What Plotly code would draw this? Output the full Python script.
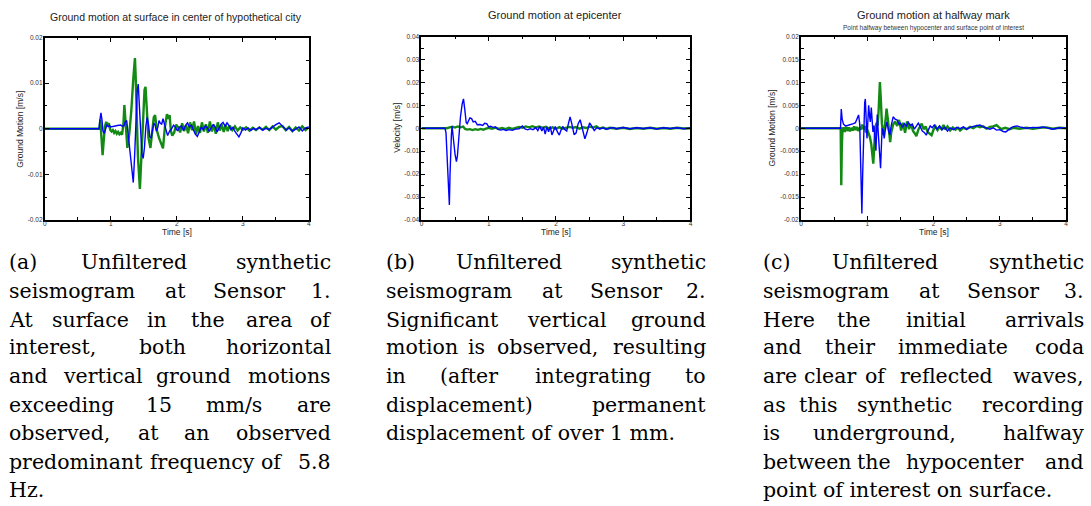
import plotly.graph_objects as go

W, H = 1091, 506

# ---------------- DATA ----------------
# Panel (a) Sensor 1
s1_green_t = [0, 0.83, 0.84, 0.86, 0.875, 0.89, 0.91, 0.93, 0.95, 0.97, 0.99, 1.01, 1.03, 1.05, 1.07, 1.09, 1.11, 1.13, 1.15, 1.17, 1.19, 1.205, 1.22, 1.25, 1.28, 1.31, 1.34, 1.365, 1.375, 1.39, 1.41, 1.44, 1.46, 1.48, 1.51, 1.525, 1.54, 1.57, 1.60, 1.62, 1.65, 1.67, 1.70, 1.73, 1.76, 1.79, 1.82, 1.85, 1.87, 1.89, 1.91, 1.93, 1.96, 1.99, 2.02, 2.05, 2.08, 2.11, 2.14, 2.17, 2.20, 2.23, 2.26, 2.29, 2.32, 2.35, 2.38, 2.41, 2.44, 2.47, 2.50, 2.53, 2.56, 2.59, 2.62, 2.65, 2.68, 2.71, 2.74, 2.77, 2.80, 2.84, 2.88, 2.92, 2.96, 3.0, 3.05, 3.1, 3.15, 3.2, 3.25, 3.3, 3.35, 3.4, 3.45, 3.5, 3.55, 3.6, 3.65, 3.7, 3.75, 3.8, 3.85, 3.9, 3.95, 4.0]
s1_green = [0, 0, 0.002, -0.002, -0.0058, -0.003, 0.0005, 0.0015, 0.0008, 0.0012, -0.0002, -0.0006, -0.0003, -0.0009, -0.0005, -0.0011, -0.0007, -0.0012, -0.0009, -0.0013, 0.001, 0.0052, 0.002, -0.0042, -0.001, 0.004, 0.011, 0.0155, 0.012, 0.004, -0.006, -0.0132, -0.007, 0.002, 0.0085, 0.0092, 0.005, -0.002, -0.0042, -0.001, 0.0025, 0.003, -0.0005, -0.002, -0.003, -0.0043, 0.0005, 0.0032, 0.0022, 0.003, -0.0005, -0.0015, -0.0008, 0.0009, 0.0003, -0.0008, 0.0012, -0.0005, 0.0008, -0.0010, 0.0014, -0.0003, 0.0016, -0.0012, 0.0006, -0.0009, 0.0014, -0.0006, 0.001, -0.0009, 0.0016, -0.0006, 0.0009, -0.0011, 0.0014, -0.0004, 0.0009, -0.0007, 0.0008, -0.0005, 0.0007, -0.0003, 0.0005, -0.0004, 0.0003, -0.0002, 0.0003, -0.0004, 0.0002, -0.0003, 0.0003, -0.0002, 0.0004, -0.0003, 0.0005, -0.0002, 0.0004, 0.0006, -0.0003, 0.0004, -0.0005, 0.0003, -0.0004, 0.0005, -0.0003, 0.0003]
s1_blue_t = [0, 0.82, 0.835, 0.85, 0.865, 0.88, 0.90, 0.92, 0.94, 0.96, 0.98, 1.0, 1.05, 1.1, 1.15, 1.18, 1.2, 1.22, 1.24, 1.26, 1.29, 1.32, 1.34, 1.36, 1.38, 1.40, 1.415, 1.43, 1.45, 1.47, 1.49, 1.51, 1.53, 1.55, 1.57, 1.59, 1.61, 1.63, 1.65, 1.67, 1.69, 1.71, 1.73, 1.75, 1.77, 1.79, 1.81, 1.83, 1.86, 1.89, 1.92, 1.95, 1.98, 2.01, 2.04, 2.07, 2.10, 2.13, 2.16, 2.19, 2.22, 2.25, 2.28, 2.31, 2.34, 2.37, 2.40, 2.43, 2.46, 2.49, 2.52, 2.55, 2.58, 2.61, 2.64, 2.67, 2.70, 2.73, 2.76, 2.79, 2.82, 2.85, 2.88, 2.91, 2.94, 2.97, 3.0, 3.04, 3.08, 3.12, 3.16, 3.2, 3.25, 3.3, 3.35, 3.4, 3.45, 3.5, 3.55, 3.58, 3.62, 3.66, 3.7, 3.75, 3.8, 3.85, 3.9, 3.95, 4.0]
s1_blue = [0, 0, 0.002, 0.0035, 0.002, -0.0005, -0.001, -0.0003, 0.0008, 0.0005, 0.0007, 0.0004, 0.0006, 0.0007, 0.0008, 0.0005, 0.0007, 0.0015, 0.0018, -0.001, -0.006, -0.0105, -0.0118, -0.006, 0.002, 0.0085, 0.0098, 0.006, -0.001, -0.0055, -0.0065, -0.004, 0.0005, 0.0025, 0.001, -0.0018, -0.002, 0.0, 0.0012, 0.0008, -0.0005, 0.0002, 0.0018, 0.0012, 0.001, 0.0022, 0.0012, 0.0005, -0.0015, -0.0005, 0.0, 0.0008, 0.0003, -0.0005, 0.0004, 0.0006, -0.0004, 0.0007, 0.0013, 0.0004, 0.0008, -0.0002, -0.0012, -0.0017, -0.0005, 0.0004, -0.0002, 0.0006, 0.0003, -0.0006, 0.0002, 0.0009, 0.0004, -0.0007, 0.0002, 0.001, 0.0014, 0.0006, 0.0013, 0.0007, -0.0002, 0.0003, -0.0006, -0.0012, -0.0018, -0.0009, 0.0002, -0.0003, 0.0002, -0.0004, 0.0001, -0.0002, 0.0003, -0.0003, 0.0001, -0.0002, 0.0004, 0.0009, 0.0013, 0.0009, 0.0003, -0.0003, 0.0002, -0.0005, -0.0001, 0.0004, -0.0005, 0.0002, 0.0004]

# Panel (b) Sensor 2
s2_green_t = [0, 0.38, 0.42, 0.46, 0.5, 0.54, 0.58, 0.62, 0.65, 0.68, 0.72, 0.76, 0.8, 0.84, 0.88, 0.92, 0.96, 1.0, 1.05, 1.1, 1.15, 1.2, 1.25, 1.3, 1.35, 1.4, 1.45, 1.5, 1.55, 1.6, 1.65, 1.7, 1.75, 1.8, 1.85, 1.9, 1.95, 2.0, 2.05, 2.1, 2.15, 2.2, 2.25, 2.3, 2.35, 2.4, 2.45, 2.5, 2.55, 2.6, 2.65, 2.7, 2.75, 2.8, 2.9, 3.0, 3.1, 3.2, 3.3, 3.4, 3.5, 3.6, 3.7, 3.8, 3.9, 4.0]
s2_green = [0, 0, 0.0004, 0.0007, 0.0003, 0.0008, 0.0004, 0.0007, -0.0003, -0.0006, -0.0004, -0.0008, -0.0004, -0.0007, -0.0003, -0.0006, -0.0002, 0.0002, -0.0002, 0.0003, -0.0003, 0.0001, -0.0004, 0.0002, -0.0003, 0.0003, 0.0006, 0.0002, 0.0008, 0.0004, 0.0009, 0.0003, 0.0008, 0.0002, 0.0006, -0.0002, 0.0004, -0.0003, 0.0005, -0.0002, 0.0003, 0.0006, 0.0002, 0.0005, -0.0002, 0.0004, 0.0001, 0.0007, 0.0003, 0.0008, -0.0001, 0.0003, -0.0003, 0.0002, -0.0002, 0.0002, -0.0003, 0.0001, -0.0002, 0.0002, -0.0002, 0.0001, -0.0002, 0.0002, -0.0001, 0.0]
s2_blue_t = [0, 0.35, 0.365, 0.38, 0.395, 0.40, 0.405, 0.415, 0.425, 0.435, 0.445, 0.455, 0.465, 0.48, 0.50, 0.52, 0.535, 0.555, 0.58, 0.605, 0.625, 0.645, 0.665, 0.68, 0.70, 0.72, 0.745, 0.77, 0.80, 0.83, 0.87, 0.91, 0.94, 0.97, 1.00, 1.03, 1.06, 1.10, 1.14, 1.18, 1.22, 1.26, 1.30, 1.35, 1.40, 1.45, 1.50, 1.54, 1.58, 1.62, 1.66, 1.70, 1.73, 1.76, 1.79, 1.815, 1.84, 1.865, 1.89, 1.915, 1.94, 1.965, 1.99, 2.02, 2.05, 2.075, 2.10, 2.13, 2.16, 2.185, 2.21, 2.235, 2.27, 2.30, 2.33, 2.36, 2.39, 2.43, 2.46, 2.50, 2.53, 2.57, 2.61, 2.65, 2.70, 2.75, 2.8, 2.85, 2.9, 3.0, 3.1, 3.2, 3.3, 3.4, 3.5, 3.6, 3.7, 3.8, 3.9, 4.0]
s2_blue = [0, 0, -0.002, -0.012, -0.0215, -0.019, -0.025, -0.0335, -0.02, -0.008, -0.003, 0.001, -0.001, -0.006, -0.0115, -0.0145, -0.012, -0.003, 0.005, 0.0105, 0.0128, 0.008, 0.0025, 0.002, 0.0035, 0.0045, 0.0042, 0.0028, 0.003, 0.0015, 0.0016, 0.0012, 0.0022, 0.002, 0.0006, 0.0009, 0.0004, 0.0006, -0.0005, -0.0008, -0.0005, -0.001, -0.0006, -0.0009, -0.0004, -0.0002, 0.001, -0.0003, -0.0007, -0.0002, -0.0006, 0.0003, -0.001, 0.0008, -0.0012, 0.0005, -0.0025, 0.0006, -0.0015, 0.0008, -0.0029, -0.0005, 0.0008, -0.0015, -0.003, -0.0008, 0.0008, -0.0005, -0.0012, 0.002, 0.005, 0.002, -0.0028, -0.002, 0.002, 0.0037, 0.0005, -0.0046, -0.002, 0.0023, 0.001, -0.001, 0.0003, -0.0003, 0.0002, -0.0004, 0.0, 0.0003, -0.0002, 0.0003, -0.0002, 0.0002, -0.0001, 0.0002, -0.0003, 0.0002, -0.0001, 0.0002, -0.0002, 0.0001]

# Panel (c) Sensor 3
s3_green_t = [0, 0.598, 0.602, 0.607, 0.615, 0.625, 0.64, 0.66, 0.68, 0.70, 0.72, 0.74, 0.76, 0.78, 0.80, 0.82, 0.84, 0.86, 0.88, 0.90, 0.92, 0.94, 0.96, 0.98, 1.00, 1.02, 1.04, 1.06, 1.075, 1.09, 1.105, 1.12, 1.14, 1.155, 1.17, 1.19, 1.205, 1.22, 1.24, 1.26, 1.28, 1.29, 1.31, 1.33, 1.345, 1.36, 1.39, 1.42, 1.45, 1.48, 1.51, 1.54, 1.57, 1.60, 1.63, 1.66, 1.69, 1.72, 1.74, 1.77, 1.80, 1.82, 1.85, 1.88, 1.91, 1.94, 1.97, 2.0, 2.03, 2.06, 2.09, 2.12, 2.15, 2.18, 2.21, 2.25, 2.29, 2.33, 2.37, 2.4, 2.45, 2.5, 2.55, 2.6, 2.65, 2.7, 2.75, 2.8, 2.85, 2.9, 2.95, 2.98, 3.02, 3.08, 3.15, 3.2, 3.3, 3.4, 3.5, 3.6, 3.7, 3.8, 3.9, 4.0]
s3_green = [0, 0, -0.006, -0.0124, -0.004, -0.0005, 0.0002, -0.0008, 0.0003, -0.0006, 0.0002, -0.0007, 0.0001, -0.0005, 0.0004, -0.0004, 0.0003, -0.0006, 0.0001, -0.0003, 0.0008, -0.0002, 0.0005, -0.0009, -0.0003, -0.0012, -0.002, -0.0035, -0.0065, -0.0077, -0.004, 0.0, 0.0012, 0.0005, 0.0037, 0.0101, 0.006, 0.001, -0.0015, 0.0, 0.0025, 0.0043, 0.002, -0.0012, -0.003, -0.001, 0.0008, 0.0015, 0.0005, 0.0018, -0.0005, 0.0012, -0.001, 0.0015, -0.0002, 0.0009, -0.0006, -0.0012, -0.0017, -0.0003, 0.0006, 0.001, -0.0002, 0.0004, -0.0008, -0.0012, -0.0015, -0.0003, 0.0004, -0.0004, 0.0003, -0.0002, 0.0007, -0.0003, 0.0004, -0.0005, 0.0002, -0.0003, 0.0001, -0.0005, 0.0001, -0.0002, 0.0003, 0.0, 0.0005, 0.0002, 0.0004, -0.0001, 0.0003, 0.0004, 0.0007, 0.0003, -0.0002, 0.0001, -0.0002, 0.0001, -0.0001, 0.0001, -0.0001, 0.0001, 0.0002, -0.0001, 0.0001, 0.0]
s3_blue_t = [0, 0.595, 0.607, 0.62, 0.64, 0.67, 0.70, 0.73, 0.76, 0.79, 0.82, 0.85, 0.868, 0.885, 0.90, 0.918, 0.93, 0.945, 0.96, 0.97, 0.985, 0.995, 1.01, 1.02, 1.035, 1.045, 1.06, 1.075, 1.085, 1.10, 1.115, 1.13, 1.14, 1.15, 1.165, 1.18, 1.20, 1.215, 1.225, 1.24, 1.255, 1.27, 1.295, 1.32, 1.34, 1.36, 1.39, 1.42, 1.45, 1.48, 1.50, 1.53, 1.56, 1.59, 1.62, 1.65, 1.68, 1.71, 1.74, 1.77, 1.80, 1.83, 1.86, 1.89, 1.92, 1.95, 1.98, 2.01, 2.05, 2.09, 2.13, 2.17, 2.21, 2.25, 2.3, 2.35, 2.4, 2.45, 2.5, 2.55, 2.6, 2.65, 2.7, 2.75, 2.8, 2.85, 2.9, 2.95, 3.0, 3.05, 3.09, 3.13, 3.18, 3.22, 3.26, 3.3, 3.35, 3.4, 3.5, 3.6, 3.65, 3.7, 3.8, 3.9, 4.0]
s3_blue = [0, 0, 0.0042, 0.002, 0.0009, 0.0005, 0.0006, 0.0007, 0.0008, 0.001, 0.0012, 0.0022, 0.0029, 0.001, -0.008, -0.0186, -0.01, 0.0, 0.0055, 0.0064, 0.001, -0.0022, 0.002, 0.005, 0.0025, 0.0014, 0.0045, 0.001, -0.0008, 0.0006, -0.002, -0.0049, -0.001, 0.003, -0.001, -0.005, -0.0087, -0.003, 0.0, -0.0005, -0.0022, -0.0005, 0.0014, -0.0005, -0.0015, 0.0005, 0.0025, 0.002, 0.0018, 0.0008, 0.0012, 0.0002, 0.001, 0.0005, 0.0013, 0.0006, 0.0009, -0.0002, 0.0004, 0.0011, 0.0003, -0.0006, -0.0009, -0.0015, -0.0004, 0.0005, 0.0001, 0.0007, -0.0002, 0.0005, -0.0003, 0.0002, -0.0006, 0.0001, -0.0003, 0.0002, -0.0001, 0.0003, -0.0002, 0.0002, 0.0004, 0.0006, 0.0007, 0.0003, 0.0001, -0.0002, 0.0001, -0.0004, -0.0003, -0.0007, -0.0008, -0.0003, 0.0002, 0.0004, 0.0005, 0.0003, 0.0002, 0.0, 0.0002, 0.0001, 0.0003, 0.0001, -0.0002, 0.0001, 0.0]

# Tick labels
x_tickvals = [0, 1, 2, 3, 4]
x_ticktext = ["0", "1", "2", "3", "4"]
y1_tickvals = [-0.02, -0.01, 0, 0.01, 0.02]
y1_ticktext = ["-0.02", "-0.01", "0", "0.01", "0.02"]
y2_tickvals = [-0.04, -0.03, -0.02, -0.01, 0, 0.01, 0.02, 0.03, 0.04]
y2_ticktext = ["-0.04", "-0.03", "-0.02", "-0.01", "0", "0.01", "0.02", "0.03", "0.04"]
y3_tickvals = [-0.02, -0.015, -0.01, -0.005, 0, 0.005, 0.01, 0.015, 0.02]
y3_ticktext = ["-0.02", "-0.015", "-0.01", "-0.005", "0", "0.005", "0.01", "0.015", "0.02"]

titles = ["Ground motion at surface in center of hypothetical city",
          "Ground motion at epicenter",
          "Ground motion at halfway mark"]
subtitle3 = "Point halfway between hypocenter and surface point of interest"
ylabels = ["Ground Motion [m/s]", "Velocity [m/s]", "Ground Motion [m/s]"]
xlabel = "Time [s]"

# Captions: list of lines; each line is list of words (justified) or a single string (last line)
caption_a = [["(a)", "Unfiltered", "synthetic"],
             ["seismogram", "at", "Sensor", "1."],
             ["At", "surface", "in", "the", "area", "of"],
             ["interest,", "both", "horizontal"],
             ["and", "vertical", "ground", "motions"],
             ["exceeding", "15", "mm/s", "are"],
             ["observed,", "at", "an", "observed"],
             ["predominant", "frequency", "of", "5.8"],
             "Hz."]
caption_b = [["(b)", "Unfiltered", "synthetic"],
             ["seismogram", "at", "Sensor", "2."],
             ["Significant", "vertical", "ground"],
             ["motion", "is", "observed,", "resulting"],
             ["in", "(after", "integrating", "to"],
             ["displacement)", "permanent"],
             "displacement of over 1 mm."]
caption_c = [["(c)", "Unfiltered", "synthetic"],
             ["seismogram", "at", "Sensor", "3."],
             ["Here", "the", "initial", "arrivals"],
             ["and", "their", "immediate", "coda"],
             ["are", "clear", "of", "reflected", "waves,"],
             ["as", "this", "synthetic", "recording"],
             ["is", "underground,", "halfway"],
             ["between", "the", "hypocenter", "and"],
             "point of interest on surface."]

# ---------------- LAYOUT (pixel positions) ----------------
GREEN = "#138a13"
BLUE = "#0000ff"
plot_px = [(43, 308, 34, 219), (421, 691, 33, 219), (802, 1068, 33, 219)]
caption_left = [5, 383.3, 761.7]
caption_right = [332, 708.3, 1088.3]
line_y = [261.7, 290.7, 320, 348.3, 377.3, 406.7, 435, 464, 493.3]
# centre x positions of the middle words of each justified line
mid_x_a = [[132.5], [174, 247.5], [89, 156, 206.7, 267.5], [160.8], [101.7, 192.5], [157.5, 233.3], [147.5, 195], [201.5, 270]]
mid_x_b = [[509.2], [552.2, 625.8], [566.7], [475.8, 547.5], [468.3, 593.3], []]
mid_x_c = [[885.8], [930.8, 1004.2], [855, 937.5], [850.8, 955], [830.8, 876.7, 947.5], [820, 905.8], [885.8], [875, 965.8]]


def px(x):
    return x / W


def py(y):
    return 1 - y / H


fig = go.Figure()
series = [
    (s1_green_t, s1_green, s1_blue_t, s1_blue),
    (s2_green_t, s2_green, s2_blue_t, s2_blue),
    (s3_green_t, s3_green, s3_blue_t, s3_blue),
]
for i, (gt, gv, bt, bv) in enumerate(series):
    xa = "x" if i == 0 else f"x{i+1}"
    ya = "y" if i == 0 else f"y{i+1}"
    fig.add_trace(go.Scatter(x=gt, y=gv, mode="lines", line=dict(color=GREEN, width=2.4),
                             xaxis=xa, yaxis=ya, showlegend=False, hoverinfo="skip"))
    fig.add_trace(go.Scatter(x=bt, y=bv, mode="lines", line=dict(color=BLUE, width=1.4),
                             xaxis=xa, yaxis=ya, showlegend=False, hoverinfo="skip"))

yticks = [(y1_tickvals, y1_ticktext, 0.02, 0.005), (y2_tickvals, y2_ticktext, 0.04, 0.005),
          (y3_tickvals, y3_ticktext, 0.02, 0.0025)]
tickfont = dict(family="Liberation Sans, Arial, sans-serif", size=6.5, color="#333")
layout = {}
for i in range(3):
    l, r, t, b = plot_px[i]
    tv, tt, lim, minor_dt = yticks[i]
    sx = "" if i == 0 else str(i + 1)
    layout["xaxis" + sx] = dict(
        domain=[px(l), px(r)], anchor="y" + sx, range=[0, 4],
        tickvals=x_tickvals, ticktext=x_ticktext, ticks="inside", ticklen=4, tickwidth=1,
        tickcolor="black", mirror="allticks", showline=True, linecolor="black", linewidth=2,
        showgrid=False, zeroline=False, tickfont=tickfont, ticklabelstandoff=-4,
        minor=dict(dtick=0.5, tick0=0, ticks="inside", ticklen=2.5, tickcolor="black", showgrid=False),
    )
    layout["yaxis" + sx] = dict(
        domain=[py(b), py(t)], anchor="x" + sx, range=[-lim, lim],
        tickvals=tv, ticktext=tt, ticks="inside", ticklen=4, tickwidth=1,
        tickcolor="black", mirror="allticks", showline=True, linecolor="black", linewidth=2,
        showgrid=False, zeroline=False, tickfont=tickfont, ticklabelstandoff=-1,
        minor=dict(dtick=minor_dt, tick0=0, ticks="inside", ticklen=2.5, tickcolor="black", showgrid=False),
    )

annotations = []
sans = "Liberation Sans, Arial, sans-serif"
title_pos = [(175, 13, 10.5), (555.5, 11, 11), (934.7, 11, 11)]
for i in range(3):
    x, y, s = title_pos[i]
    annotations.append(dict(text=titles[i], x=px(x), y=py(y), xref="paper", yref="paper",
                            showarrow=False, xanchor="center", yanchor="middle",
                            font=dict(family=sans, size=s, color="#222")))
annotations.append(dict(text=subtitle3, x=px(935), y=py(24.5), xref="paper", yref="paper",
                        showarrow=False, xanchor="center", yanchor="middle",
                        font=dict(family=sans, size=6.5, color="#333")))
ylab_x = [18, 397, 773]
for i in range(3):
    l, r, t, b = plot_px[i]
    annotations.append(dict(text=ylabels[i], x=px(ylab_x[i]), y=py((t + b) / 2), xref="paper", yref="paper",
                            showarrow=False, textangle=-90, xanchor="center", yanchor="middle",
                            font=dict(family=sans, size=8.5, color="#222")))
    annotations.append(dict(text=xlabel, x=px((l + r) / 2), y=py(231.5), xref="paper", yref="paper",
                            showarrow=False, xanchor="center", yanchor="middle",
                            font=dict(family=sans, size=8.5, color="#222")))

serif = dict(family="DejaVu Serif, serif", size=20.5, color="black")


def add_caption(lines, mids, left, right):
    for k, line in enumerate(lines):
        y = py(line_y[k])
        if isinstance(line, str):
            annotations.append(dict(text=line, x=px(left), y=y, xref="paper", yref="paper",
                                    showarrow=False, xanchor="left", yanchor="middle", font=serif))
            continue
        annotations.append(dict(text=line[0], x=px(left), y=y, xref="paper", yref="paper",
                                showarrow=False, xanchor="left", yanchor="middle", font=serif))
        annotations.append(dict(text=line[-1], x=px(right), y=y, xref="paper", yref="paper",
                                showarrow=False, xanchor="right", yanchor="middle", font=serif))
        for w, cx in zip(line[1:-1], mids[k]):
            annotations.append(dict(text=w, x=px(cx), y=y, xref="paper", yref="paper",
                                    showarrow=False, xanchor="center", yanchor="middle", font=serif))


add_caption(caption_a, mid_x_a, caption_left[0], caption_right[0])
add_caption(caption_b, mid_x_b, caption_left[1], caption_right[1])
add_caption(caption_c, mid_x_c, caption_left[2], caption_right[2])

fig.update_layout(width=W, height=H, margin=dict(l=0, r=0, t=0, b=0),
                  paper_bgcolor="white", plot_bgcolor="white",
                  annotations=annotations, **layout)
fig.write_html("out.html")
